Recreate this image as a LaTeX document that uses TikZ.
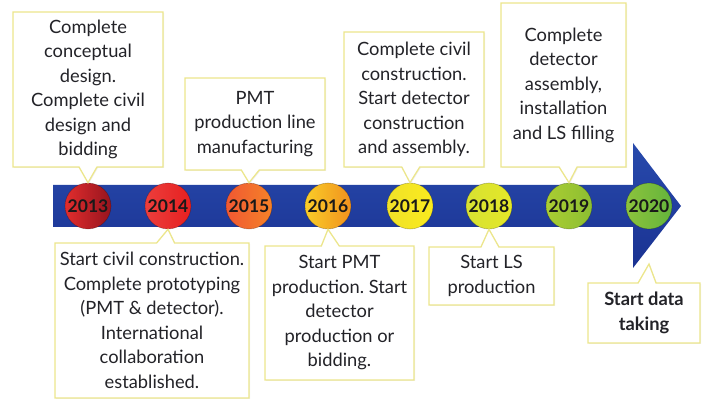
\documentclass[tikz,border=0pt]{standalone}
\usepackage{fontspec}
\setmainfont{Lato}
\frenchspacing
\usetikzlibrary{shapes.callouts,shadows}
\definecolor{bartop}{RGB}{40,74,172}
\definecolor{barbot}{RGB}{26,50,146}
\definecolor{boxline}{RGB}{236,230,140}
\definecolor{txt}{RGB}{35,35,40}
\tikzset{
  callbox/.style={rectangle callout, draw=boxline, line width=1.3pt, fill=white,
    callout pointer width=18pt, text=txt, align=center,
    font=\fontsize{18.3}{24.5}\selectfont, inner sep=0pt,
    drop shadow={opacity=0.12, shadow xshift=1pt, shadow yshift=-1pt}},
  yearball/.style={circle, minimum size=46pt, inner sep=0pt,
    font=\bfseries\fontsize{17.5}{18}\selectfont, text=black!90,
    draw=black, draw opacity=0.25, line width=0.6pt},
}
\begin{document}
\begin{tikzpicture}[x=1pt,y=-1pt]
\useasboundingbox (0,0) rectangle (702,403);
% arrow bar
\path[top color=bartop, bottom color=barbot]
  (53,185) -- (633,185) -- (633,143) -- (681,206) -- (633,268) -- (633,227) -- (53,227) -- cycle;
% year balls
\node[yearball, left color={rgb,255:red,225;green,45;blue,45}, right color={rgb,255:red,150;green,20;blue,30}] (y2013) at (88,206) {2013};
\node[yearball, left color={rgb,255:red,236;green,62;blue,60}, right color={rgb,255:red,230;green,32;blue,32}] (y2014) at (168,206) {2014};
\node[yearball, left color={rgb,255:red,240;green,88;blue,50}, right color={rgb,255:red,245;green,130;blue,40}] (y2015) at (249,206) {2015};
\node[yearball, left color={rgb,255:red,250;green,205;blue,40}, right color={rgb,255:red,240;green,145;blue,30}] (y2016) at (328,206) {2016};
\node[yearball, left color={rgb,255:red,240;green,225;blue,40}, right color={rgb,255:red,250;green,235;blue,30}] (y2017) at (410,206) {2017};
\node[yearball, left color={rgb,255:red,215;green,225;blue,50}, right color={rgb,255:red,228;green,232;blue,40}] (y2018) at (489,206) {2018};
\node[yearball, left color={rgb,255:red,170;green,205;blue,50}, right color={rgb,255:red,140;green,190;blue,50}] (y2019) at (569,206) {2019};
\node[yearball, left color={rgb,255:red,140;green,195;blue,60}, right color={rgb,255:red,100;green,180;blue,60}] (y2020) at (649,206) {2020};
\coordinate (p2020) at (649,264);
% callouts above
\node[callbox, minimum width=150pt, minimum height=155pt, callout absolute pointer={(y2013.north)}] (b2013) at (88,89.5)
  {Complete\\conceptual\\design.\\Complete civil\\design and\\bidding};
\node[callbox, minimum width=140pt, minimum height=92pt, callout absolute pointer={(y2015.north)}] (b2015) at (255,124)
  {PMT\\production line\\manufacturing};
\node[callbox, minimum width=140pt, minimum height=135pt, callout absolute pointer={(y2017.north)}] (b2017) at (414,99.5)
  {Complete civil\\construction.\\Start detector\\construction\\and assembly.};
\node[callbox, minimum width=125pt, minimum height=164pt, callout absolute pointer={(y2019.north)}] (b2019) at (563.5,85)
  {Complete\\detector\\assembly,\\installation\\and LS filling};
% callouts below
\node[callbox, minimum width=194pt, minimum height=155pt, callout absolute pointer={(y2014.south)}] (b2014) at (152,320.5)
  {Start civil construction.\\Complete prototyping\\(PMT \& detector).\\International\\collaboration\\established.};
\node[callbox, minimum width=149pt, minimum height=134pt, callout absolute pointer={(y2016.south)}] (b2016) at (339.5,313)
  {Start PMT\\production. Start\\detector\\production or\\bidding.};
\node[callbox, minimum width=125pt, minimum height=58pt, callout absolute pointer={(y2018.south)}] (b2018) at (491.5,276)
  {Start LS\\production};
\node[callbox, minimum width=112pt, minimum height=60pt, callout absolute pointer={(p2020)}, font=\bfseries\fontsize{18.3}{24.5}\selectfont] (b2020) at (644,313)
  {Start data\\taking};
\end{tikzpicture}
\end{document}
